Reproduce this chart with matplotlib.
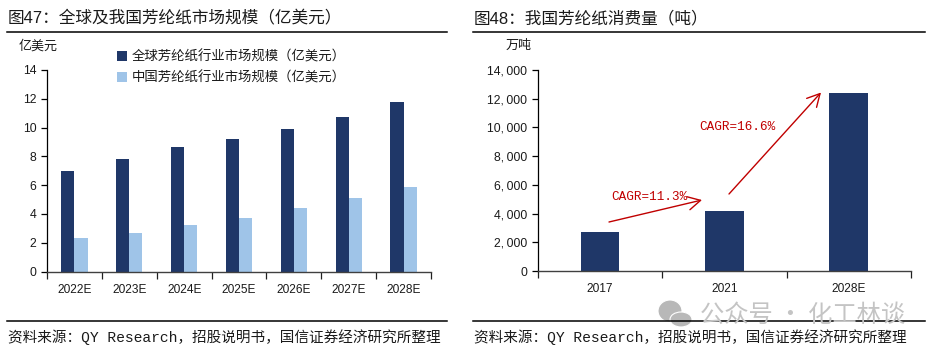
import numpy as np
import matplotlib
matplotlib.use('Agg')
import matplotlib.pyplot as plt
from matplotlib.lines import Line2D
from matplotlib.patches import Ellipse, FancyArrowPatch

plt.rcParams['font.family'] = ['Liberation Sans', 'Noto Sans CJK SC']

W, H = 935, 351

years_l = ['2022E', '2023E', '2024E', '2025E', '2026E', '2027E', '2028E']
global_mkt = [7.0, 7.8, 8.65, 9.2, 9.9, 10.7, 11.75]
china_mkt = [2.3, 2.7, 3.2, 3.7, 4.4, 5.1, 5.85]
name_global = '全球芳纶纸行业市场规模（亿美元）'
name_china = '中国芳纶纸行业市场规模（亿美元）'

years_r = ['2017', '2021', '2028E']
consumption = [2750, 4150, 12400]
ticks_r = [0, 2000, 4000, 6000, 8000, 10000, 12000, 14000]
ticklabels_r = ['0', '2,\u2009000', '4,\u2009000', '6,\u2009000', '8,\u2009000',
                '10,\u2009000', '12,\u2009000', '14,\u2009000']

source = '资料来源：QY Research，招股说明书，国信证券经济研究所整理'
navy = '#1F3768'
light = '#9FC4E8'
red = '#C00000'
txt = '#1a1a1a'
mono = ['Liberation Mono', 'Noto Sans CJK SC']


def box(x0, x1, y_top, y_bot):
    return [x0 / W, 1 - y_bot / H, (x1 - x0) / W, (y_bot - y_top) / H]


def put(x, y, s, **kw):
    kw.setdefault('va', 'center')
    kw.setdefault('color', txt)
    fig.text(x / W, 1 - y / H, s, **kw)


def rule(x0, x1, y):
    fig.add_artist(Line2D([x0 / W, x1 / W], [1 - y / H, 1 - y / H], color='black', lw=1.1))


def style(ax, n):
    for s in ['top', 'right']:
        ax.spines[s].set_visible(False)
    ax.spines['left'].set_linewidth(0.9)
    ax.spines['bottom'].set_linewidth(1.0)
    ax.spines['bottom'].set_color('#404040')
    ax.set_xlim(-0.5, n - 0.5)
    ax.set_xticks(np.arange(n + 1) - 0.5)
    ax.set_xticklabels([])
    ax.set_xticks(np.arange(n), minor=True)
    ax.tick_params(axis='x', which='major', length=5, width=0.9, color='#202020')
    ax.tick_params(axis='x', which='minor', length=0, pad=9, labelsize=8.6, labelcolor=txt)
    ax.tick_params(axis='y', length=4.5, width=0.9, pad=3, labelsize=8.8, labelcolor=txt)


fig = plt.figure(figsize=(W / 100, H / 100), dpi=100)

# left panel
ax1 = fig.add_axes(box(47, 431, 70, 271.5))
x = np.arange(len(years_l))
bw = 0.24
ax1.bar(x - bw / 2, global_mkt, bw, color=navy, label=name_global)
ax1.bar(x + bw / 2, china_mkt, bw, color=light, label=name_china)
ax1.set_ylim(0, 14)
ax1.set_yticks(range(0, 15, 2))
style(ax1, len(years_l))
ax1.set_xticklabels(years_l, minor=True)
ax1.legend(loc='upper left', bbox_to_anchor=((105 - 47) / 384, 1.16), frameon=False,
           prop={'family': 'Noto Sans CJK SC', 'size': 9.65}, handlelength=0.75, handleheight=0.75,
           handletextpad=0.35, labelspacing=0.5, labelcolor=txt)

# right panel
ax2 = fig.add_axes(box(537.7, 911, 70, 271))
ax2.bar(np.arange(len(years_r)), consumption, 0.31, color=navy)
ax2.set_ylim(0, 14000)
ax2.set_yticks(ticks_r)
ax2.set_yticklabels(ticklabels_r)
style(ax2, len(years_r))
ax2.set_xticklabels(years_r, minor=True)

# CAGR arrows
for a, b in [((609, 222), (702, 200)), ((729, 194), (821, 92.5))]:
    fig.add_artist(FancyArrowPatch((a[0] / W, 1 - a[1] / H), (b[0] / W, 1 - b[1] / H),
                                   transform=fig.transFigure, mutation_scale=12,
                                   arrowstyle='->,head_length=0.75,head_width=0.4',
                                   color=red, lw=1.0, shrinkA=0, shrinkB=0))
put(611, 197.5, 'CAGR=11.3%', color=red, fontsize=9.1, family=mono)
put(699, 126.5, 'CAGR=16.6%', color=red, fontsize=9.1, family=mono)

# titles, rules, source
put(8, 18, '图47：全球及我国芳纶纸市场规模（亿美元）', fontsize=12)
put(474, 18, '图48：我国芳纶纸消费量（吨）', fontsize=12)
put(19, 46, '亿美元', fontsize=9.4, family='Noto Sans CJK SC')
put(506, 45, '万吨', fontsize=9.4, family='Noto Sans CJK SC')
rule(7, 447, 31.5)
rule(473, 925, 31.5)
rule(7, 447, 320.5)
rule(473, 925, 320.5)
put(8, 337, source, fontsize=10.5, family=mono)
put(474, 337, source, fontsize=10.5, family=mono)

# watermark
for cx, cy, w, h in [(670, 311, 24, 22), (681, 319.5, 22, 15)]:
    fig.add_artist(Ellipse((cx / W, 1 - cy / H), w / W, h / H, transform=fig.transFigure,
                           facecolor='#b8b8b8', edgecolor='white', lw=0.8))
put(700, 315, '公众号 · 化工林谈', fontsize=17.5, color='#c4c4c4', family='Noto Sans CJK SC')

fig.savefig('out.png', dpi=100)
